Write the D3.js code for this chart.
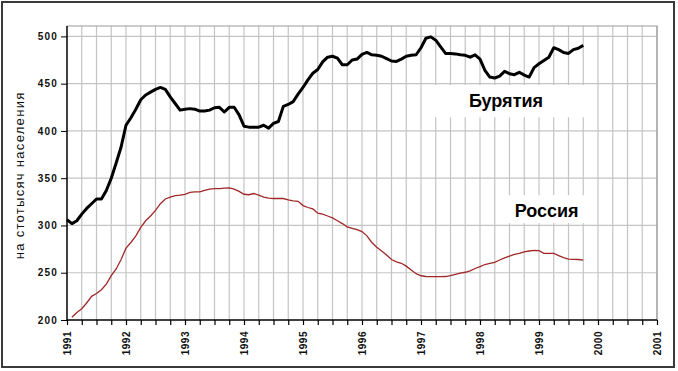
<!DOCTYPE html>
<html>
<head>
<meta charset="utf-8">
<script src="https://cdn.jsdelivr.net/npm/d3@7"></script>
<style>
body{margin:0;background:#fff;}
text{font-family:Arial,"Liberation Sans",sans-serif;}
.grid line{stroke:#c4c4c4;stroke-width:1.2px;}
</style>
</head>
<body>
<script>

// monthly values, Jan 1991 onward
var startYear = 1991;
var buryatia = [
 306,302,305,312,318,323,328,328,337,350,366,383,
 406,414,423,433,438,441,444,446,444,436,429,422,
 423,423.6,423,421,421,422,424.5,425,420,425,425,417,
 405,404,404,404,406,403,408,410,426,428,431,439,
 446,454,461,465,473,478,479,477,470,470,475,476,
 481,483,480.5,480,479,476.5,474,473.5,476,479,480,480.6,
 488,498,499.5,496,489,482,482,481.5,480.5,480,478,480.5,
 476,464,457,456,458,463,460.5,459.5,462,459,457,467,
 471,474.5,478,488,486,483,482,486,487.5,490.5
];
var russia = [
 null,203,208,212,218,225,228,232,238,247,254,264,
 276,282,289,298,305,310,316,323,328,330,331.5,332,
 333,335,335.5,335.5,337,338.5,339,339,339.5,339.8,338.5,336,
 333,332.5,333.8,332,330,329,328.5,328.5,328.5,327,326,325.5,
 321,319,317.5,313,312,310,308,305,302,298.5,297,295.5,
 293.5,289,282,277,273,268.7,264,261.5,260,257,253,249,
 246.8,246,245.8,245.8,245.8,246,247,248.3,249.5,250.5,252,254.5,
 256.5,258.7,259.8,261,263.5,265.8,267.5,269.3,270.5,272,273,273.6,
 273.3,270.5,270.4,270.4,268.2,266,264.4,264.2,264,263.4
];
var yTicks = [200,250,300,350,400,450,500];
var yearLabels = [1991,1992,1993,1994,1995,1996,1997,1998,1999,2000,2001];
var yTitle = "на стотысяч населения";
var labels = [
 {text:"Бурятия", x0:1997.2, x1:1999.83, y0:414.5, y1:448.5, tx:1998.44, ty:425},
 {text:"Россия",  x0:1998.35, x1:1999.82, y0:302.5, y1:332, tx:1999.13, ty:309}
];

var W = 678, H = 371;
var svg = d3.select("body").append("svg").attr("width",W).attr("height",H);

svg.append("rect").attr("x",2).attr("y",2).attr("width",672).attr("height",365)
	.attr("fill","#fff").attr("stroke","#3a3a3a").attr("stroke-width",2);

var x = d3.scaleLinear().domain([1991,2001]).range([67,657]);
var y = d3.scaleLinear().domain([200,511]).range([320,26]);

var quarters = d3.range(1991,2001.001,0.25);

// grid
var grid = svg.append("g").attr("class","grid");
grid.selectAll(".v").data(quarters.slice(1)).enter().append("line")
	.attr("x1",d=>x(d)).attr("x2",d=>x(d)).attr("y1",y.range()[1]).attr("y2",y.range()[0]);
grid.selectAll(".h").data(yTicks.slice(1)).enter().append("line")
	.attr("x1",x.range()[0]).attr("x2",x.range()[1]).attr("y1",d=>y(d)).attr("y2",d=>y(d));
// plot frame top/right
svg.append("path")
	.attr("d","M"+x.range()[0]+","+y.range()[1]+"H"+x.range()[1]+"V"+y.range()[0])
	.attr("fill","none").attr("stroke","#9a9a9a").attr("stroke-width",1.2);

// label boxes
svg.selectAll(".lbox").data(labels).enter().append("rect")
	.attr("x",d=>x(d.x0)).attr("y",d=>y(d.y1))
	.attr("width",d=>x(d.x1)-x(d.x0)).attr("height",d=>y(d.y0)-y(d.y1))
	.attr("fill","#fff");
svg.selectAll(".ltxt").data(labels).enter().append("text")
	.attr("x",d=>x(d.tx)).attr("y",d=>y(d.ty))
	.attr("text-anchor","middle").attr("font-size","18px").attr("font-weight","bold")
	.attr("fill","#000").text(d=>d.text);

// axes
var yAxis = d3.axisLeft(y).tickValues(yTicks).tickSize(6).tickPadding(3).tickFormat(d3.format("d"));
var gy = svg.append("g").attr("transform","translate("+x(1991)+",0)").call(yAxis);
gy.select(".domain").attr("stroke","#000").attr("stroke-width",1.5).attr("d","M0,"+y.range()[1]+"V"+y.range()[0]);
gy.selectAll("text").attr("font-size","10px").attr("font-weight","bold").attr("letter-spacing","1.2px")
	.attr("font-family","Arial,'Liberation Sans',sans-serif").attr("fill","#111");

var xAxis = d3.axisBottom(x).tickValues(quarters).tickSize(5).tickFormat("");
var gx = svg.append("g").attr("transform","translate(0,"+y(200)+")").call(xAxis);
gx.select(".domain").attr("stroke","#000").attr("stroke-width",1.5).attr("d","M"+x.range()[0]+",0H"+x.range()[1]);
gx.selectAll(".tick line").attr("stroke","#000").attr("stroke-width",1.2);

svg.selectAll(".yl").data(yearLabels).enter().append("text")
	.attr("transform",d=>"translate("+x(d)+","+(y(200)+11)+") rotate(-90)")
	.attr("text-anchor","end").attr("dy","0.35em")
	.attr("font-size","10px").attr("font-weight","bold").attr("letter-spacing","0.5px")
	.attr("fill","#111").text(d=>d);

svg.append("text")
	.attr("transform","translate(24,"+y(353)+") rotate(-90)")
	.attr("text-anchor","middle")
	.attr("font-size","13px").attr("letter-spacing","1.3px").attr("fill","#111")
	.text(yTitle);

// lines
var line = d3.line()
	.defined(d=>d!=null)
	.x((d,i)=>x(startYear+i/12))
	.y(d=>y(d));

svg.append("path").datum(russia).attr("d",line)
	.attr("fill","none").attr("stroke","#a02828").attr("stroke-width",1.3);
svg.append("path").datum(buryatia).attr("d",line)
	.attr("fill","none").attr("stroke","#000").attr("stroke-width",3).attr("stroke-linejoin","round");

</script>
</body>
</html>
